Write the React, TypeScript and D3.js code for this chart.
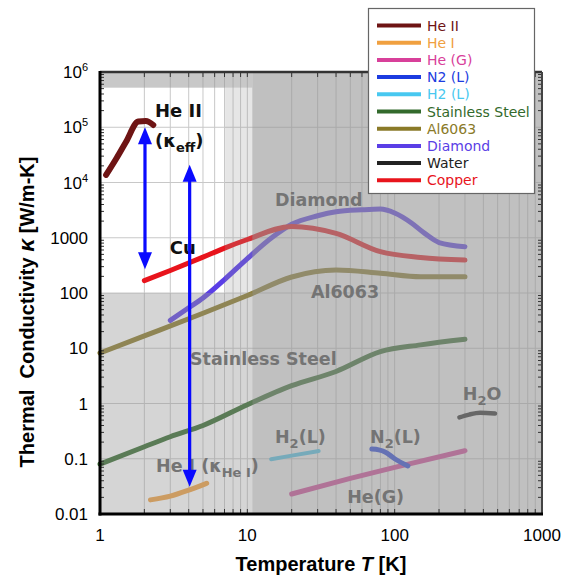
import React from 'react';
import * as d3 from 'd3';

// ---- data (T in K, k in W/m-K) ----
const heII_T = [1.1, 1.3, 1.5, 1.82, 2.05, 2.3];
const heII_k = [13700, 28000, 54000, 127000, 130000, 110000];
const heI_T = [2.2, 3, 4, 4.6, 5.3];
const heI_k = [0.018, 0.021, 0.027, 0.031, 0.036];
const heG_T = [20, 50, 100, 300];
const heG_k = [0.023, 0.044, 0.07, 0.14];
const n2_T = [70, 78, 86, 100, 123];
const n2_k = [0.15, 0.145, 0.133, 0.1, 0.074];
const h2_T = [14.5, 20, 30.5];
const h2_k = [0.098, 0.114, 0.138];
const ss_T = [1, 2, 3, 5, 10, 20, 40, 80, 150, 300];
const ss_k = [0.08, 0.165, 0.25, 0.4, 0.95, 2.1, 3.8, 8.7, 11.5, 14.5];
const al_T = [1, 2, 5, 10, 20, 40, 80, 150, 300];
const al_k = [8.2, 16.7, 43, 90, 195, 260, 228, 197, 197];
const dia_T = [3, 4, 5, 7, 10, 15, 20, 30, 40, 60, 80, 100, 130, 160, 200, 300];
const dia_k = [32, 54, 81, 175, 420, 1050, 1750, 2500, 2950, 3200, 3300, 2800, 1850, 1200, 820, 690];
const water_T = [275, 320, 380, 480];
const water_k = [0.56, 0.63, 0.68, 0.66];
const cu_T = [2, 3, 5, 7, 10, 20, 40, 80, 150, 300];
const cu_k = [167, 255, 445, 650, 930, 1600, 1200, 560, 440, 395];

const legendNames = ['He II', 'He I', 'He (G)', 'N2 (L)', 'H2 (L)', 'Stainless Steel', 'Al6063', 'Diamond', 'Water', 'Copper'];
const legendColors = ['#6e1414', '#f0a040', '#d8409a', '#1c3ce0', '#48c8f0', '#336a2c', '#8a7a28', '#5a3ee6', '#222222', '#e8141c'];

// blue arrows: temperature, top tip, bottom tip
const arrowT = [2.02, 4.06];
const arrowTop = [1.0e5, 2.1e4];
const arrowBottom = [270, 0.031];

const xTicks = [1, 10, 100, 1000];
const yTicks = [0.01, 0.1, 1, 10, 100, 1000, 1e4, 1e5, 1e6];

// ---- layout ----
const W = 567, H = 579;
const x = d3.scaleLog().domain([1, 1000]).range([100, 542]);
const y = d3.scaleLog().domain([0.01, 1e6]).range([514, 72]);

const series = [
  { T: heII_T, k: heII_k, c: 0, w: 6 },
  { T: heI_T, k: heI_k, c: 1, w: 5 },
  { T: heG_T, k: heG_k, c: 2, w: 5 },
  { T: n2_T, k: n2_k, c: 3, w: 5 },
  { T: h2_T, k: h2_k, c: 4, w: 4 },
  { T: ss_T, k: ss_k, c: 5, w: 5 },
  { T: al_T, k: al_k, c: 6, w: 5 },
  { T: dia_T, k: dia_k, c: 7, w: 5 },
  { T: water_T, k: water_k, c: 8, w: 4.5 },
  { T: cu_T, k: cu_k, c: 9, w: 5 },
];

// gray shading laid over the curves (T0, T1, k0, k1, opacity)
const shades = [
  [10.8, 1000, 0.01, 1e6, 0.6],
  [1, 10.8, 5.2e5, 1e6, 0.52],
  [1, 10.8, 0.01, 100, 0.4],
  [7.06, 10.8, 100, 5.2e5, 0.24],
];

const line = d3.line<[number, number]>()
  .x(d => x(d[0]))
  .y(d => y(d[1]))
  .curve(d3.curveMonotoneX);

const minorT: number[] = [];
[1, 10, 100].forEach(d => { for (let i = 1; i < 10; i++) minorT.push(d * i); });
minorT.push(1000);
const minorK: number[] = [];
[0.01, 0.1, 1, 10, 100, 1000, 1e4, 1e5].forEach(d => { for (let i = 2; i < 10; i++) minorK.push(d * i); });

const labelFont = 'DejaVu Sans, sans-serif';
const gray = '#747474';

const yLabel = (v: number) => {
  if (v >= 1e4) {
    const e = Math.round(Math.log10(v));
    return (<>10<tspan dy={-7} fontSize={11}>{e}</tspan></>);
  }
  return d3.format('~g')(v);
};

const App = () => {
  const x0 = x(1), x1 = x(1000), y0 = y(0.01), y1 = y(1e6);
  const yTitle = 'Thermal\u00a0\u00a0Conductivity\u00a0';
  return (
    <svg width={W} height={H} style={{ position: 'absolute', left: 0, top: 0, background: '#fff' }}>
      {/* grid */}
      <g stroke="#c8c8c8" strokeWidth={1}>
        {minorT.map((t, i) => <line key={'gx' + i} x1={x(t)} x2={x(t)} y1={y1} y2={y0} />)}
        {yTicks.map((k, i) => <line key={'gy' + i} x1={x0} x2={x1} y1={y(k)} y2={y(k)} />)}
      </g>

      {/* curves */}
      <g fill="none" strokeLinecap="round" strokeLinejoin="round">
        {series.map((s, i) => (
          <path key={i} d={line(s.T.map((t, j) => [t, s.k[j]] as [number, number])) || ''}
            stroke={legendColors[s.c]} strokeWidth={s.w} />
        ))}
      </g>

      {/* shading */}
      <g fill="#969696">
        {shades.map((s, i) => (
          <rect key={i} x={x(s[0])} width={x(s[1]) - x(s[0])} y={y(s[3])} height={y(s[2]) - y(s[3])} fillOpacity={s[4]} />
        ))}
      </g>

      {/* gray labels */}
      <g fontFamily={labelFont} fontWeight="bold" fontSize={17.5} fill={gray}>
        <text x={x(15.4)} y={y(3760)}>Diamond</text>
        <text x={x(27)} y={y(81)}>Al6063</text>
        <text x={x(4.08)} y={y(5)}>Stainless Steel</text>
        <text x={x(290)} y={y(1.16)}>H<tspan dy={5} fontSize={13}>2</tspan><tspan dy={-5}>O</tspan></text>
        <text x={x(15.4)} y={y(0.19)}>H<tspan dy={5} fontSize={13}>2</tspan><tspan dy={-5}>(L)</tspan></text>
        <text x={x(68)} y={y(0.19)}>N<tspan dy={5} fontSize={13}>2</tspan><tspan dy={-5}>(L)</tspan></text>
        <text x={x(47.6)} y={y(0.0159)}>He(G)</text>
        <text x={x(2.4)} y={y(0.057)}>He I (κ<tspan dy={5} fontSize={13}>He I</tspan><tspan dy={-5}>)</tspan></text>
      </g>

      {/* black labels */}
      <g fontFamily={labelFont} fontWeight="bold" fontSize={18} fill="#111">
        <text x={x(2.36)} y={y(1.53e5)}>He II</text>
        <text x={x(2.36)} y={y(4.4e4)}>(κ<tspan dy={5} fontSize={13}>eff</tspan><tspan dy={-5}>)</tspan></text>
        <text x={x(2.98)} y={y(508)}>Cu</text>
      </g>

      {/* blue arrows */}
      <g>
        {arrowT.map((t, i) => {
          const ax = x(t), ta = y(arrowTop[i]), tb = y(arrowBottom[i]);
          const L = 17, hw = 7;
          return (
            <g key={i} fill="#0a0aff">
              <line x1={ax} x2={ax} y1={ta + L - 1} y2={tb - L + 1} stroke="#0a0aff" strokeWidth={3.2} />
              <path d={`M${ax},${ta} L${ax + hw},${ta + L} L${ax - hw},${ta + L} Z`} />
              <path d={`M${ax},${tb} L${ax + hw},${tb - L} L${ax - hw},${tb - L} Z`} />
            </g>
          );
        })}
      </g>

      {/* minor ticks on frame */}
      <g stroke="#333" strokeWidth={1}>
        {minorT.map((t, i) => <line key={'tb' + i} x1={x(t)} x2={x(t)} y1={y0} y2={y0 - 5} />)}
        {minorT.map((t, i) => <line key={'tt' + i} x1={x(t)} x2={x(t)} y1={y1} y2={y1 + 5} />)}
        {minorK.map((k, i) => <line key={'tl' + i} x1={x0} x2={x0 + 4} y1={y(k)} y2={y(k)} />)}
        {minorK.map((k, i) => <line key={'tr' + i} x1={x1} x2={x1 - 4} y1={y(k)} y2={y(k)} />)}
      </g>

      {/* frame */}
      <line x1={x0} x2={x1} y1={y1} y2={y1} stroke="#333" strokeWidth={2.5} />
      <line x1={x1} x2={x1} y1={y1} y2={y0} stroke="#444" strokeWidth={2} />
      <line x1={x0} x2={x0} y1={y1 - 1} y2={y0 + 1.5} stroke="#000" strokeWidth={3} />
      <line x1={x0 - 1.5} x2={x1 + 1} y1={y0} y2={y0} stroke="#000" strokeWidth={3} />

      {/* tick labels */}
      <g fontFamily="Liberation Sans, Arial, sans-serif" fontSize={17} fill="#000">
        {yTicks.map((k, i) => (
          <text key={'yl' + i} x={88} y={y(k)} dy="0.36em" textAnchor="end">{yLabel(k)}</text>
        ))}
        {xTicks.map((t, i) => (
          <text key={'xl' + i} x={x(t)} y={541} textAnchor="middle">{t}</text>
        ))}
      </g>

      {/* axis titles */}
      <g fontFamily="Liberation Sans, Arial, sans-serif" fontWeight="bold" fontSize={20} fill="#000">
        <text x={(x0 + x1) / 2} y={571} textAnchor="middle">Temperature <tspan fontStyle="italic">T</tspan> [K]</text>
        <text transform="translate(34,312) rotate(-90)" textAnchor="middle">
          {yTitle}<tspan fontStyle="italic" fontSize={23}>κ</tspan>{'\u00a0[W/m-K]'}
        </text>
      </g>

      {/* legend */}
      <g>
        <rect x={368.5} y={8.5} width={166} height={185} fill="#fff" stroke="#666" strokeWidth={1.2} />
        {legendNames.map((n, i) => {
          const ly = 25.5 + i * 17.2;
          return (
            <g key={n}>
              <line x1={377} x2={421} y1={ly} y2={ly} stroke={legendColors[i]} strokeWidth={4} />
              <text x={427} y={ly} dy="0.36em" fontFamily={labelFont} fontSize={14} fill={legendColors[i]}>{n}</text>
            </g>
          );
        })}
      </g>
    </svg>
  );
};

export default App;
